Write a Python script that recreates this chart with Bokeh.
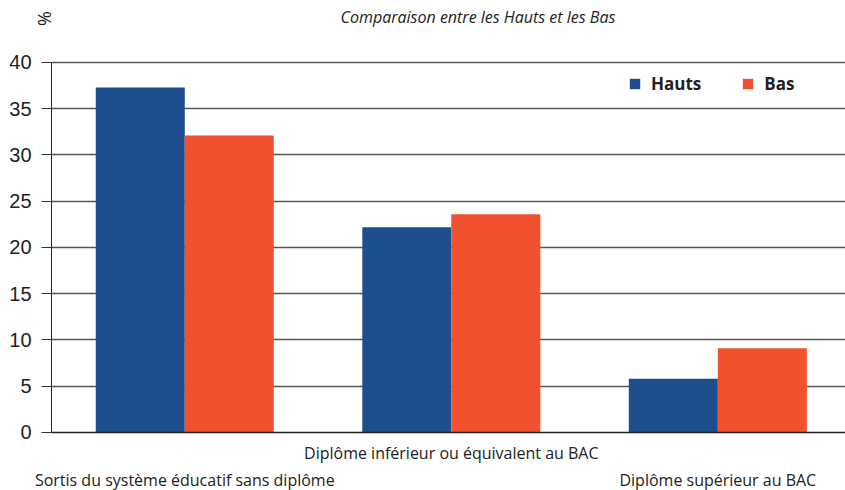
import math
from bokeh.plotting import figure
from bokeh.models import (Range1d, LinearAxis, FixedTicker, Label, Legend,
                          LegendItem, ColumnDataSource, Grid)
from bokeh.embed import file_html
from bokeh.resources import INLINE

# ---- data ----
categories = ["Sortis du système éducatif sans diplôme",
              "Diplôme inférieur ou équivalent au BAC",
              "Diplôme supérieur au BAC"]
hauts = [37.3, 22.2, 5.8]
bas = [32.1, 23.6, 9.1]
y_ticks = [0, 5, 10, 15, 20, 25, 30, 35, 40]
series_names = ["Hauts", "Bas"]
title_text = "Comparaison entre les Hauts et les Bas"
unit_text = "%"

BLUE = "#1f4e8f"
ORANGE = "#f0512f"

centers = [i + 0.5 for i in range(len(categories))]
bw = 0.334
X_END = 2.979

p = figure(width=845, height=490,
           x_range=Range1d(-0.1914, X_END), y_range=Range1d(-6.27, 46.70),
           output_backend="svg", toolbar_location=None,
           x_axis_type=None, y_axis_type=None,
           min_border_left=0, min_border_right=0,
           min_border_top=0, min_border_bottom=0)
p.outline_line_color = None
p.background_fill_color = "white"
p.border_fill_color = "white"

# grid lines (between axis and right edge)
grid = Grid(dimension=1, ticker=FixedTicker(ticks=y_ticks[1:]),
            cross_bounds=(0, X_END))
grid.grid_line_color = "#555555"
grid.grid_line_width = 1.5
p.add_layout(grid)

src_h = ColumnDataSource(dict(x=[c - bw / 2 for c in centers], top=hauts))
src_b = ColumnDataSource(dict(x=[c + bw / 2 for c in centers], top=bas))
r_h = p.vbar(x="x", top="top", width=bw, bottom=0, source=src_h,
             fill_color=BLUE, line_color=None)
r_b = p.vbar(x="x", top="top", width=bw, bottom=0, source=src_b,
             fill_color=ORANGE, line_color=None)

# y axis
yaxis = LinearAxis(ticker=FixedTicker(ticks=y_ticks), bounds=(0, 40),
                   fixed_location=0)
yaxis.axis_line_color = "#222222"
yaxis.axis_line_width = 1
yaxis.major_tick_out = 10
yaxis.major_tick_in = 0
yaxis.major_tick_line_color = "#333333"
yaxis.minor_tick_line_color = None
yaxis.major_label_standoff = 10
yaxis.major_label_text_font = "Liberation Sans"
yaxis.major_label_text_font_size = "20px"
yaxis.major_label_text_color = "#222222"
p.add_layout(yaxis, "left")

# x axes (staggered labels)
xa1 = LinearAxis(ticker=FixedTicker(ticks=[centers[1]]),
                 major_label_overrides={centers[1]: categories[1]},
                 fixed_location=0, bounds=(0, X_END))
xa2 = LinearAxis(ticker=FixedTicker(ticks=[centers[0], centers[2]]),
                 major_label_overrides={centers[0]: categories[0],
                                        centers[2]: categories[2]},
                 fixed_location=0)
for ax in (xa1, xa2):
    ax.major_tick_out = 0
    ax.major_tick_in = 0
    ax.minor_tick_line_color = None
    ax.major_label_text_font = "Open Sans"
    ax.major_label_text_font_size = "16px"
    ax.major_label_text_color = "#222222"
xa1.axis_line_color = "#222222"
xa1.axis_line_width = 1.5
xa1.major_label_standoff = 10
xa2.axis_line_color = None
xa2.major_label_standoff = 37
p.add_layout(xa1, "below")
p.add_layout(xa2, "below")

# legend
legend = Legend(items=[LegendItem(label=series_names[0], renderers=[r_h]),
                       LegendItem(label=series_names[1], renderers=[r_b])],
                orientation="horizontal", location=(628, 395))
legend.border_line_color = None
legend.background_fill_alpha = 0
legend.padding = 0
legend.margin = 0
legend.spacing = 40
legend.glyph_width = 13
legend.glyph_height = 13
legend.label_height = 13
legend.label_standoff = 10
legend.label_text_font = "Open Sans"
legend.label_text_font_style = "bold"
legend.label_text_font_size = "17px"
legend.label_text_color = "#222222"
legend.label_text_baseline = "middle"
p.add_layout(legend, "center")

# title and unit label
p.add_layout(Label(x=1.6, y=44.97, text=title_text, text_align="center",
                   text_baseline="alphabetic", text_font="Open Sans",
                   text_font_style="italic", text_font_size="16px",
                   text_color="#222222"))
p.add_layout(Label(x=-0.03, y=44.75, text=unit_text, text_align="center",
                   text_baseline="middle", angle=math.pi / 2,
                   text_font="Open Sans", text_font_size="18px",
                   text_color="#222222"))

open("out.html", "w").write(file_html(p, INLINE))
